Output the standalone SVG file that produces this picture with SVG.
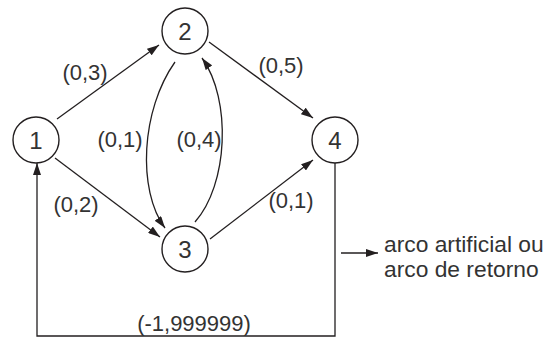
<svg xmlns="http://www.w3.org/2000/svg" width="545" height="339" viewBox="0 0 545 339">
  <style>
    .node circle { fill: #fff; stroke: #231f20; stroke-width: 1.4; }
    .node text { font-family: "Liberation Sans", Arial, sans-serif; font-size: 24px; fill: #333; text-anchor: middle; }
    .edge { fill: none; stroke: #231f20; stroke-width: 1.3; }
    .lbl { font-family: "Liberation Sans", Arial, sans-serif; font-size: 22px; fill: #333; text-anchor: middle; }
    .note { font-family: "Liberation Sans", Arial, sans-serif; font-size: 22.8px; fill: #333; }
  </style>
  <defs>
    <marker id="arrow" viewBox="0 0 12 8" refX="12" refY="4" markerWidth="12" markerHeight="8" markerUnits="userSpaceOnUse" orient="auto">
      <path d="M0,0 L12,4 L0,8 Z" fill="#231f20"/>
    </marker>
  </defs>

  <rect width="545" height="339" fill="#fff"/>

  <g id="connectors">
    <!-- 1 -> 2 -->
    <line class="edge" x1="57" y1="119" x2="159" y2="45" marker-end="url(#arrow)"/>
    <!-- 2 -> 4 -->
    <line class="edge" x1="209" y1="42" x2="313" y2="118" marker-end="url(#arrow)"/>
    <!-- 1 -> 3 -->
    <line class="edge" x1="55" y1="158" x2="160" y2="237" marker-end="url(#arrow)"/>
    <!-- 3 -> 4 -->
    <line class="edge" x1="210" y1="239" x2="313" y2="160" marker-end="url(#arrow)"/>
    <!-- 2 -> 3 (curved, left) -->
    <path class="edge" d="M175,62 C141,110 137,190 165,228" marker-end="url(#arrow)"/>
    <!-- 3 -> 2 (curved, right) -->
    <path class="edge" d="M195,222 C228,185 232,100 202,58" marker-end="url(#arrow)"/>
    <!-- return arc 4 -> 1 -->
    <path class="edge" d="M335,163 L335,336 L37,336 L37,163" marker-end="url(#arrow)"/>
    <!-- pointer to the note -->
    <line class="edge" x1="341" y1="253" x2="378" y2="253" marker-end="url(#arrow)"/>
  </g>

  <g id="labels">
    <text class="lbl" x="85" y="80">(0,3)</text>
    <text class="lbl" x="281" y="73">(0,5)</text>
    <text class="lbl" x="120" y="147">(0,1)</text>
    <text class="lbl" x="199" y="147">(0,4)</text>
    <text class="lbl" x="76" y="212">(0,2)</text>
    <text class="lbl" x="291" y="208">(0,1)</text>
    <text class="lbl" x="194" y="331">(-1,999999)</text>
    <text class="note" x="384" y="252">arco artificial ou</text>
    <text class="note" x="384" y="277">arco de retorno</text>
  </g>

  <g id="node1" class="node">
    <circle cx="36" cy="140" r="23"/>
    <text x="36" y="149">1</text>
  </g>
  <g id="node2" class="node">
    <circle cx="185" cy="31" r="23"/>
    <text x="185" y="40">2</text>
  </g>
  <g id="node3" class="node">
    <circle cx="185" cy="249" r="23"/>
    <text x="185" y="258">3</text>
  </g>
  <g id="node4" class="node">
    <circle cx="335" cy="140" r="23"/>
    <text x="335" y="149">4</text>
  </g>
</svg>
